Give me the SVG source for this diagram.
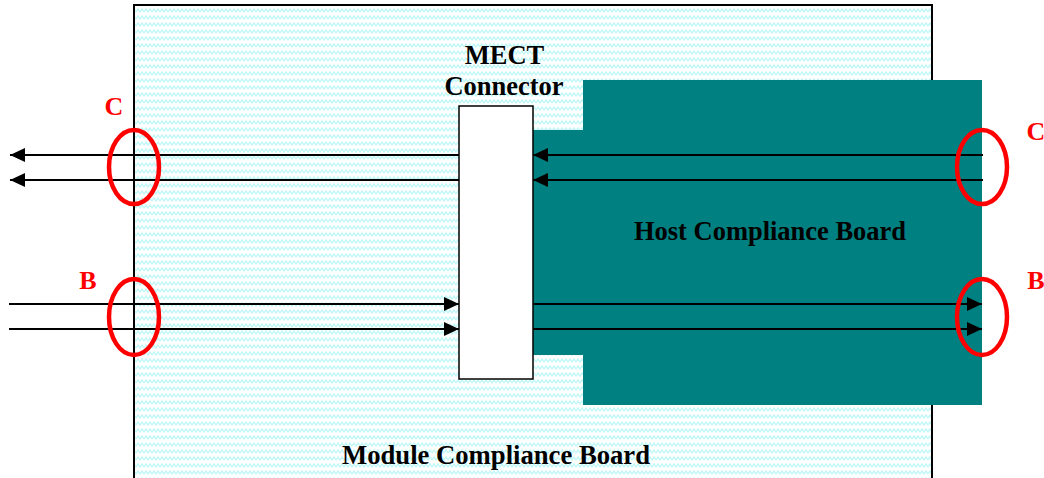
<svg xmlns="http://www.w3.org/2000/svg" width="1044" height="478" viewBox="0 0 1044 478">
  <defs>
    <pattern id="zigzag" x="0" y="0" width="8" height="7" patternUnits="userSpaceOnUse">
      <polyline points="0,5 2,2 4,5 6,2 8,5" fill="none" stroke="#c4f8f8" stroke-width="1.4"/>
    </pattern>
    <marker id="arrow" viewBox="0 0 15 14" refX="15" refY="7" markerWidth="15" markerHeight="14" markerUnits="userSpaceOnUse" orient="auto">
      <path d="M0,0 L15,7 L0,14 z" fill="#000"/>
    </marker>
    <style>
      .label { font-family: "Liberation Serif", "Times New Roman", serif; font-weight: bold; font-size: 26.5px; fill: #000; }
      .tag { font-family: "Liberation Serif", "Times New Roman", serif; font-weight: bold; font-size: 26px; fill: #ff0000; }
      .wire { stroke: #000; stroke-width: 2; fill: none; }
      .ring { stroke: #ff0000; stroke-width: 4.5; fill: none; }
    </style>
  </defs>

  <rect width="1044" height="478" fill="#fff"/>

  <!-- Module compliance board -->
  <g id="module-board">
    <rect x="134" y="5" width="798" height="480" fill="#fff"/>
    <rect x="134" y="5" width="798" height="480" fill="url(#zigzag)"/>
    <path d="M134,478 V5 H932 V478" fill="none" stroke="#000" stroke-width="2"/>
    <text class="label" x="342" y="464" textLength="308" lengthAdjust="spacingAndGlyphs">Module Compliance Board</text>
  </g>

  <!-- Host compliance board -->
  <g id="host-board">
    <path d="M583,80 H982 V405 H583 V355 H533 V130 H583 Z" fill="#008080"/>
    <text class="label" x="634" y="240" textLength="272" lengthAdjust="spacingAndGlyphs">Host Compliance Board</text>
  </g>

  <!-- MECT connector -->
  <g id="mect-connector">
    <rect x="459" y="106" width="74" height="273" fill="#fff" stroke="#000" stroke-width="1.5"/>
    <text class="label" x="504.5" y="64" text-anchor="middle">MECT</text>
    <text class="label" x="504" y="95" text-anchor="middle">Connector</text>
  </g>

  <!-- Signal connectors -->
  <g id="connectors">
    <line class="wire" x1="459" y1="155" x2="10" y2="155" marker-end="url(#arrow)"/>
    <line class="wire" x1="459" y1="180" x2="10" y2="180" marker-end="url(#arrow)"/>
    <line class="wire" x1="983" y1="155" x2="533" y2="155" marker-end="url(#arrow)"/>
    <line class="wire" x1="983" y1="180" x2="533" y2="180" marker-end="url(#arrow)"/>
    <line class="wire" x1="9" y1="304" x2="459" y2="304" marker-end="url(#arrow)"/>
    <line class="wire" x1="9" y1="329" x2="459" y2="329" marker-end="url(#arrow)"/>
    <line class="wire" x1="533" y1="304" x2="982" y2="304" marker-end="url(#arrow)"/>
    <line class="wire" x1="533" y1="329" x2="982" y2="329" marker-end="url(#arrow)"/>
  </g>

  <!-- Measurement points -->
  <g id="point-c-left">
    <ellipse class="ring" cx="134" cy="167" rx="25" ry="37"/>
    <text class="tag" x="114" y="115" text-anchor="middle">C</text>
  </g>
  <g id="point-c-right">
    <ellipse class="ring" cx="982" cy="167" rx="25" ry="37"/>
    <text class="tag" x="1036" y="140" text-anchor="middle">C</text>
  </g>
  <g id="point-b-left">
    <ellipse class="ring" cx="134" cy="317" rx="25" ry="38"/>
    <text class="tag" x="88" y="289" text-anchor="middle">B</text>
  </g>
  <g id="point-b-right">
    <ellipse class="ring" cx="982" cy="317" rx="25" ry="38"/>
    <text class="tag" x="1036" y="289" text-anchor="middle">B</text>
  </g>
</svg>
